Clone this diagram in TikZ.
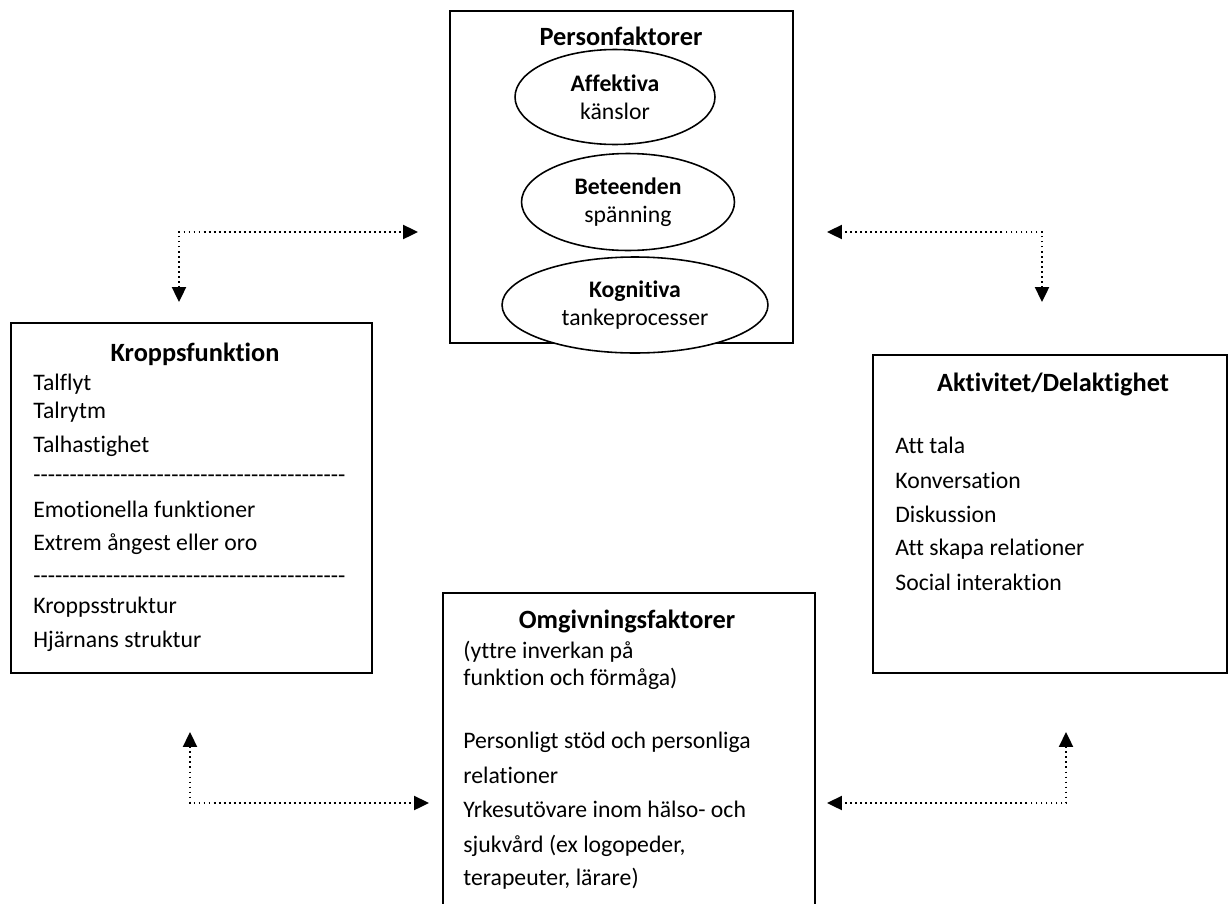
\documentclass[tikz,border=0pt]{standalone}
\usepackage{fontspec}
\setmainfont{Carlito}[Ligatures={TeX,NoCommon}]
\usetikzlibrary{arrows.meta,shapes.geometric,positioning,fit}

\newcommand{\dashrow}{\foreach \d in {1,...,43}{-}}

\begin{document}
\begin{tikzpicture}[x=0.02cm, y=-0.02cm, font=\fontsize{13.5}{16}\selectfont,
  box/.style={draw, line width=1.1pt, inner sep=0pt},
  oval/.style={draw, ellipse, fill=white, line width=0.9pt, inner sep=0pt, align=center},
  item/.style={anchor=west, inner sep=0pt, text height=9.5pt, text depth=3pt},
  head/.style={font=\fontsize{15}{18}\selectfont\bfseries, inner sep=0pt, text height=10.5pt, text depth=3pt},
  link/.style={line width=1.1pt, dash pattern=on 1.1pt off 1.75pt,
    {Triangle[length=8.5pt,width=8pt]}-{Triangle[length=8.5pt,width=8pt]}}]
\useasboundingbox (0,0) rectangle (1230,903);

% Personfaktorer
\node[box, fit={(450,11) (793,343)}] (person) {};
\node[head] (person-t) at (621,39) {Personfaktorer};
\node[oval, minimum width=4cm, minimum height=1.9cm] (affekt) at (615,97) {\textbf{Affektiva}\\känslor};
\node[oval, minimum width=4.26cm, minimum height=1.94cm] (beteende) at (628,202) {\textbf{Beteenden}\\spänning};
\node[oval, minimum width=5.32cm, minimum height=1.92cm] (kognitiv) at (635,305) {\textbf{Kognitiva}\\tankeprocesser};

% Kroppsfunktion
\node[box, fit={(11,323) (372,673)}] (kropp) {};
\node[head] (kropp-t) at (195,355) {Kroppsfunktion};
\foreach \y/\t [count=\i] in {385/Talflyt, 413/Talrytm, 447/Talhastighet, 477/\dashrow,
  512/Emotionella funktioner, 545/Extrem ångest eller oro, 578/\dashrow,
  608/Kroppsstruktur, 642/Hjärnans struktur} {
  \node[item] (kropp\i) at (33,\y) {\t};
}

% Aktivitet/Delaktighet
\node[box, fit={(873,355) (1227,673)}] (aktiv) {};
\node[head] (aktiv-t) at (1053,385) {Aktivitet/Delaktighet};
\foreach \y/\t [count=\i] in {448/Att tala, 483/Konversation, 517/Diskussion,
  550/Att skapa relationer, 585/Social interaktion} {
  \node[item] (aktiv\i) at (895,\y) {\t};
}

% Omgivningsfaktorer
\node[box, fit={(443,593) (815,915)}] (omgiv) {};
\node[head] (omgiv-t) at (627,622) {Omgivningsfaktorer};
\foreach \y/\t [count=\i] in {653/(yttre inverkan på, 680/funktion och förmåga),
  743/Personligt stöd och personliga, 778/relationer, 812/Yrkesutövare inom hälso- och,
  847/{sjukvård (ex logopeder,}, 880/{terapeuter, lärare)}} {
  \node[item] (omgiv\i) at (463,\y) {\t};
}

% dotted links
\coordinate (tl1) at (179,302);
\coordinate (tl2) at (418,232);
\coordinate (tr1) at (1042,302);
\coordinate (tr2) at (827,232);
\coordinate (bl1) at (190,732);
\coordinate (bl2) at (429,803);
\coordinate (br1) at (1066,732);
\coordinate (br2) at (827,803);
\foreach \c in {tl,tr,bl,br} {
  \draw[link] (\c1) |- (\c2);
}
\end{tikzpicture}
\end{document}
